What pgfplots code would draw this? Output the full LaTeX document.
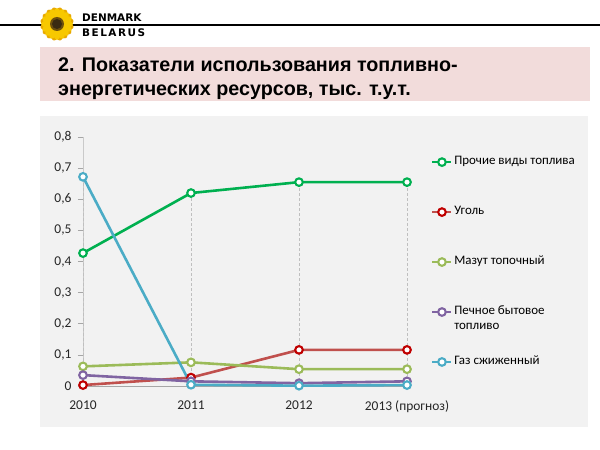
\documentclass[border=0pt]{standalone}
\usepackage{fontspec}
\setmainfont{Carlito}
\newfontfamily\titlefont{Liberation Sans}[BoldFont={Liberation Sans Bold}]
\newfontfamily\logofont{DejaVu Sans}
\usepackage{pgfplots}
\pgfplotsset{compat=1.18}
\definecolor{cGreen}{HTML}{00B050}
\definecolor{cRed}{HTML}{C0504D}
\definecolor{cRedDark}{HTML}{C00000}
\definecolor{cOlive}{HTML}{9BBB59}
\definecolor{cPurple}{HTML}{8064A2}
\definecolor{cCyan}{HTML}{4BACC6}
\definecolor{pinkbox}{HTML}{F2DCDB}
\definecolor{panel}{HTML}{F2F2F2}
\definecolor{axgray}{HTML}{A6A6A6}
\definecolor{dropgray}{HTML}{BFBFBF}
\definecolor{sunA}{HTML}{F7C800}
\definecolor{sunB}{HTML}{E8A900}
\definecolor{sunC}{HTML}{3A2A12}
\begin{document}
\begin{tikzpicture}
\useasboundingbox (0,0) rectangle (600bp,450bp);
\begin{scope}[x=1bp,y=1bp]
\fill[white] (0,0) rectangle (600,450);
\draw[line width=1.2] (0,425) -- (600,425);
% sunflower
\foreach \a in {11.25,33.75,...,360} \fill[sunB, rotate around={\a:(57,426)}] (57,436) ellipse [x radius=3.6, y radius=6.8];
\foreach \a in {0,22.5,...,337.5} \fill[sunA, rotate around={\a:(57,426)}] (57,435.5) ellipse [x radius=3.4, y radius=6.5];
\fill[sunC!70!sunB] (57,426) circle (7);
\fill[sunC] (57,426) circle (5);
\node[anchor=base west, inner sep=0, font=\logofont\bfseries\fontsize{10.5}{12}\selectfont] at (82,428) {DENMARK};
\node[anchor=base west, inner sep=0, font=\logofont\bfseries\fontsize{10.5}{12}\selectfont] at (82,413) {\makebox[63bp][s]{B\hfill E\hfill L\hfill A\hfill R\hfill U\hfill S}};
\fill[pinkbox] (40,349) rectangle (590,403);
\node[anchor=base west, inner sep=0, font=\titlefont\bfseries\fontsize{19.8}{22}\selectfont] at (58,379) {2. Показатели использования топливно-};
\node[anchor=base west, inner sep=0, font=\titlefont\bfseries\fontsize{19.8}{22}\selectfont] at (58,355) {энергетических ресурсов, тыс. т.у.т.};
\fill[panel] (40,23) rectangle (588,334);
\end{scope}
\begin{axis}[
  at={(83bp,64bp)}, anchor=south west,
  scale only axis, width=324bp, height=249bp,
  xmin=0, xmax=3, ymin=0, ymax=0.8,
  clip=false,
  axis x line=bottom, axis y line=left,
  x axis line style={-, draw=axgray, line width=0.8bp},
  y axis line style={-, draw=axgray!60, line width=0.8bp},
  xtick={0,1,2,3},
  xticklabels={2010,2011,2012,{2013 (прогноз)}},
  major x tick style={draw=none},
  ytick={0,0.1,0.2,0.3,0.4,0.5,0.6,0.7,0.8},
  tick align=outside, major tick length=5bp,
  major y tick style={draw=axgray, line width=0.6bp},
  yticklabel style={/pgf/number format/use comma, /pgf/number format/fixed, xshift=-3bp},
  /pgf/number format/assume math mode=true,
  tick label style={font=\fontsize{13.5}{15}\selectfont, text=black!85},
  xticklabel style={yshift=-6bp},
  legend style={at={(1.074,0.924)}, anchor=north west, draw=none, fill=none,
    font=\fontsize{13}{15}\selectfont, row sep=38bp, inner sep=0pt,
    nodes={inner sep=1.5bp, text depth=0.2em, text height=0.7em}},
  legend cell align=left,
  legend image code/.code={\draw[mark repeat=2, mark phase=2] plot coordinates {(0bp,0bp) (9.5bp,0bp) (19bp,0bp)};},
]
\addplot[ycomb, draw=dropgray, line width=0.7bp, dash pattern=on 3bp off 2bp, no marks, forget plot]
  coordinates {(0,0.672) (1,0.62) (2,0.655) (3,0.655)};
\addplot[cGreen, line width=2.6bp, mark=*, mark size=3.8bp, mark options={fill=white, draw=cGreen, line width=2.1bp, solid}]
  coordinates {(0,0.427) (1,0.620) (2,0.655) (3,0.655)};
\addlegendentry{Прочие виды топлива}
\addplot[cRed, line width=2.6bp, mark=*, mark size=3.8bp, mark options={fill=white, draw=cRedDark, line width=2.1bp, solid}]
  coordinates {(0,0.003) (1,0.027) (2,0.116) (3,0.116)};
\addlegendentry{Уголь}
\addplot[cOlive, line width=2.6bp, mark=*, mark size=3.8bp, mark options={fill=white, draw=cOlive, line width=2.1bp, solid}]
  coordinates {(0,0.063) (1,0.076) (2,0.054) (3,0.054)};
\addlegendentry{Мазут топочный}
\addplot[cPurple, line width=2.6bp, mark=*, mark size=3.8bp, mark options={fill=white, draw=cPurple, line width=2.1bp, solid}]
  coordinates {(0,0.035) (1,0.015) (2,0.009) (3,0.015)};
\addlegendentry{\rlap{\raisebox{-15bp}[0pt][0pt]{топливо}}Печное бытовое}
\addplot[cCyan, line width=2.6bp, mark=*, mark size=3.8bp, mark options={fill=white, draw=cCyan, line width=2.1bp, solid}]
  coordinates {(0,0.672) (1,0.004) (2,0.001) (3,0.003)};
\addlegendentry{Газ сжиженный}
\end{axis}
\end{tikzpicture}
\end{document}
